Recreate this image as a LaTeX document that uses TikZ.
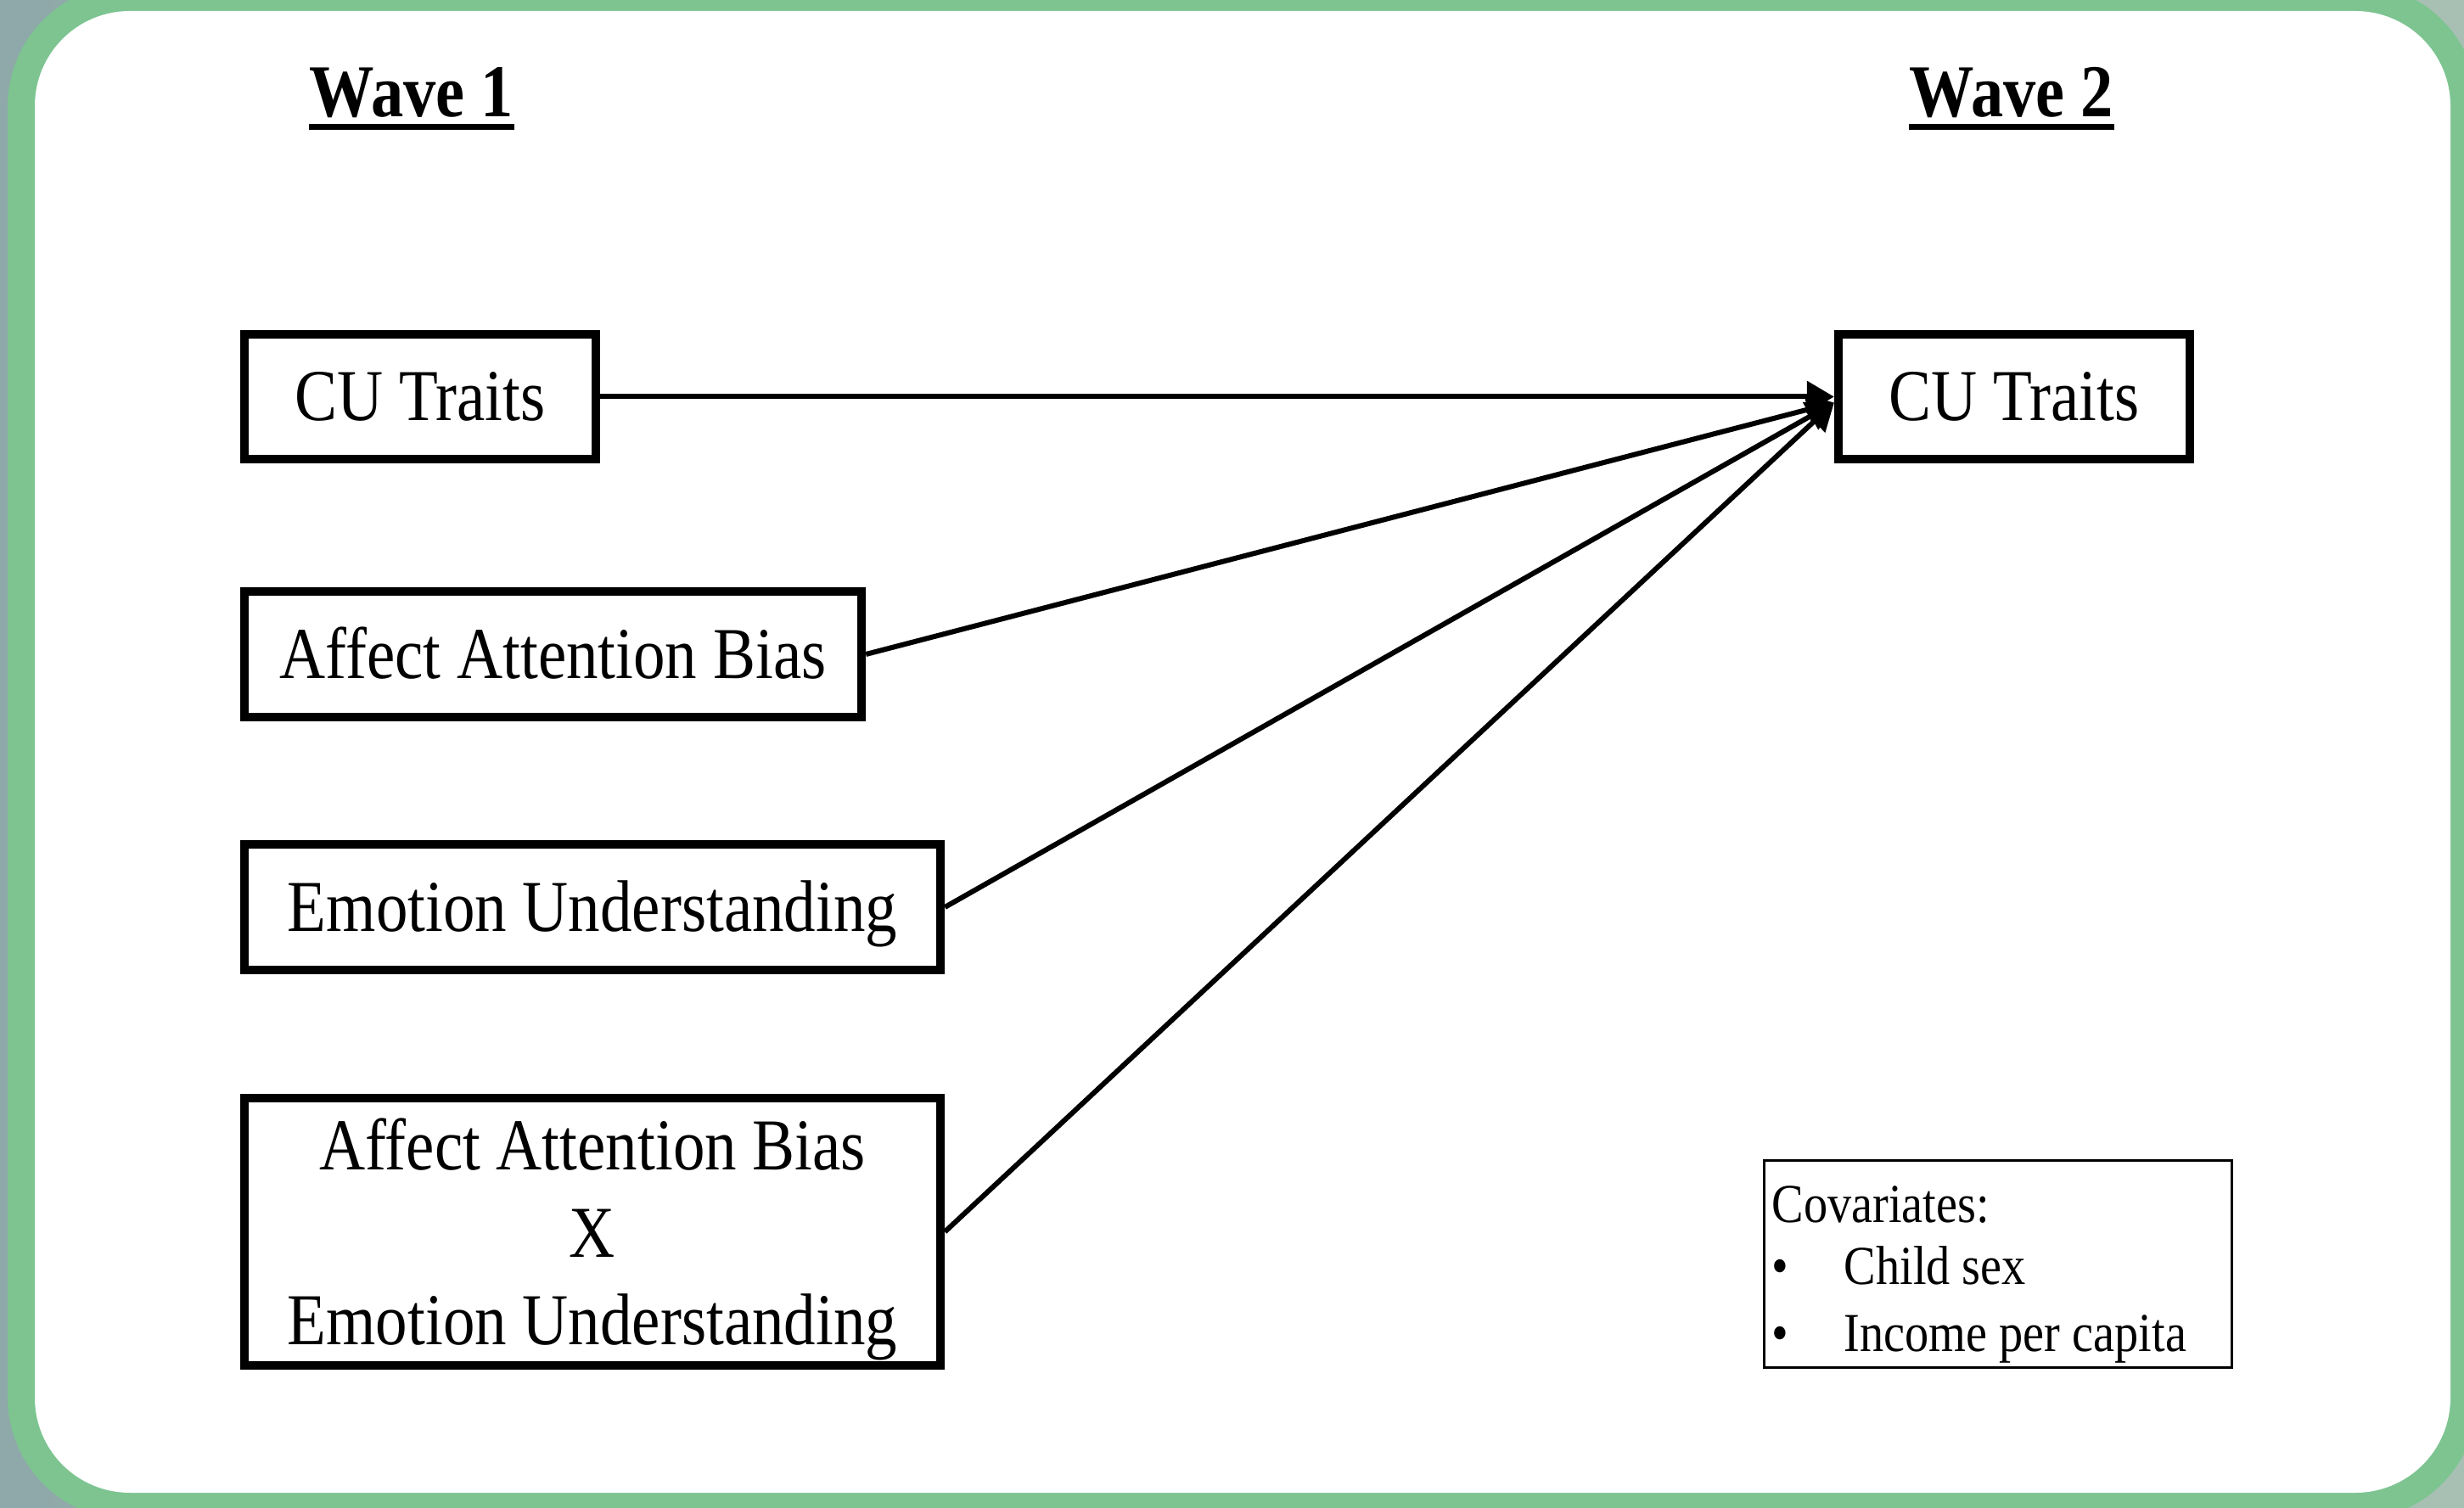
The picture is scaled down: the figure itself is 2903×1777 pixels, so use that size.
\documentclass[tikz,border=0pt]{standalone}
\usepackage{fontspec}
\setmainfont{Liberation Serif}[FakeStretch=0.87]
\usetikzlibrary{arrows.meta}
\definecolor{bggray}{HTML}{8FA8A9}
\definecolor{bggray2}{HTML}{A8C0B4}
\definecolor{framegreen}{HTML}{7DC491}
\begin{document}
\begin{tikzpicture}[x=0.01cm,y=-0.01cm,
  boxtext/.style={align=center, inner sep=0, font=\fontsize{24.5}{29.3}\selectfont},
  box/.style={draw, line width=0.1cm, boxtext},
  onebox/.style={box, text height=16pt, text depth=0pt},
  link/.style={line width=0.06cm, -{Triangle[length=0.32cm,width=0.36cm]}},
  wavetext/.style={anchor=base, inner sep=0, font=\fontsize{25}{30}\selectfont\bfseries},
  covtext/.style={anchor=base west, inner sep=0, font=\fontsize{18.4}{22}\selectfont}]
\useasboundingbox (0,0) rectangle (2903,1777);
\shade[left color=bggray, right color=bggray2] (0,0) rectangle (2903,1777);
\fill[framegreen, rounded corners=1.44cm] (9,-19) rectangle (2919,1791);
\fill[white, rounded corners=1.12cm] (41,13) rectangle (2887,1759);

% headings
\node[wavetext] (w1) at (485,138) {Wave 1};
\draw[line width=0.07cm] ([yshift=-0.12cm]w1.base west) -- ([yshift=-0.12cm]w1.base east);
\node[wavetext] (w2) at (2370,138) {Wave 2};
\draw[line width=0.07cm] ([yshift=-0.12cm]w2.base west) -- ([yshift=-0.12cm]w2.base east);

% boxes
\node[onebox, minimum width=4.14cm, minimum height=1.47cm] (cu1) at (495,467.5) {CU Traits};
\node[onebox, minimum width=7.27cm, minimum height=1.48cm] (aab) at (651.5,771) {Affect Attention Bias};
\node[onebox, minimum width=8.2cm, minimum height=1.48cm] (eu) at (698,1069) {Emotion Understanding};
\node[box, minimum width=8.2cm, minimum height=3.15cm] (int) at (698,1451.5) {};
\node[boxtext] (intt) at ([yshift=-0.09cm]int.center) {Affect Attention Bias\\X\\Emotion Understanding};
\node[onebox, minimum width=4.14cm, minimum height=1.47cm] (cu2) at (2373,467.5) {CU Traits};

% covariates
\node[draw, line width=0.03cm, minimum width=5.51cm, minimum height=2.44cm, inner sep=0] (cov) at (2354,1489.5) {};
\node[covtext] (covt) at (2087,1440) {Covariates:};
\node[covtext] (b1) at (2087,1513) {•};
\node[covtext] (c1) at (2172,1513) {Child sex};
\node[covtext] (b2) at (2087,1592) {•};
\node[covtext] (c2) at (2172,1592) {Income per capita};

% arrows
\coordinate (tip) at ([yshift=-0.07cm]cu2.west);
\draw[link] (cu1.east) -- (cu2.west);
\draw[link] (aab.east) -- (tip);
\draw[link] (eu.east) -- (tip);
\draw[link] (int.east) -- (tip);
\end{tikzpicture}
\end{document}
